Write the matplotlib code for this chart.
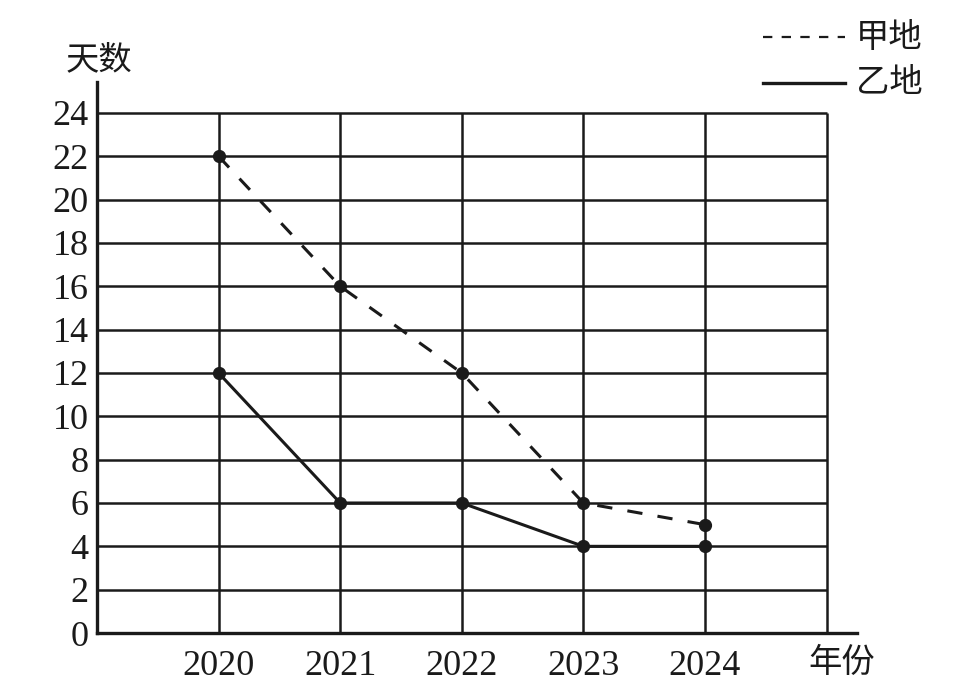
import matplotlib
matplotlib.use("Agg")
import matplotlib.pyplot as plt
from matplotlib.lines import Line2D

years = [2020, 2021, 2022, 2023, 2024]
jia = [22, 16, 12, 6, 5]
yi = [12, 6, 6, 4, 4]
grid_years = [2020, 2021, 2022, 2023, 2024, 2025]
y_ticks = list(range(0, 25, 2))
x_labels = ["2020", "2021", "2022", "2023", "2024"]
series_names = ['甲地', '乙地']

cjk = ['Noto Sans CJK SC', 'DejaVu Sans']
serif = ['Liberation Serif', 'DejaVu Serif']

fig = plt.figure(figsize=(9.54, 6.95), dpi=100)
ax = fig.add_axes([97/954, (695-633)/695, (857-97)/954, (633-82)/695])
ax.set_xlim(2019, 2025.25)
ax.set_ylim(0, 25.43)

c = '#1a1a1a'
ax.hlines(y_ticks[1:], 2019, 2025, colors=c, lw=1.8, zorder=1)
ax.vlines(grid_years, 0, 24, colors=c, lw=1.8, zorder=1)

ax.plot(years, jia, color=c, lw=2.2, ls=(0, (5, 5)), marker='o', ms=8.5, zorder=3)
ax.plot(years, yi, color=c, lw=2.2, ls='-', marker='o', ms=8.5, zorder=3)

for s in ['top', 'right']:
    ax.spines[s].set_visible(False)
for s in ['left', 'bottom']:
    ax.spines[s].set_linewidth(2.4)
    ax.spines[s].set_color(c)

ax.set_yticks(y_ticks)
ax.set_yticklabels([str(v) for v in y_ticks], family=serif, fontsize=26, color=c)
ax.set_xticks(years)
ax.set_xticklabels(x_labels, family=serif, fontsize=26, color=c)
ax.tick_params(length=0)
ax.tick_params(axis='y', pad=6)
ax.tick_params(axis='x', pad=12)

fig.text(99/954, 1-60/695, '天数', family=cjk, fontsize=24, ha='center', va='center', color=c)
fig.text(842/954, 1-662/695, '年份', family=cjk, fontsize=24, ha='center', va='center', color=c)

# legend (manual layout)
styles = [dict(lw=1.6, ls=(0, (4.2, 4.2))), dict(lw=2.4, ls='-')]
for i, (name, st) in enumerate(zip(series_names, styles)):
    yy = 1 - (37 + 46 * i) / 695
    fig.add_artist(Line2D([763/954, 845/954], [yy, yy], transform=fig.transFigure,
                          color=c, **st))
    fig.text(856/954, yy, name, family=cjk, fontsize=24, ha='left', va='center', color=c)

fig.savefig('out.png', dpi=100)
